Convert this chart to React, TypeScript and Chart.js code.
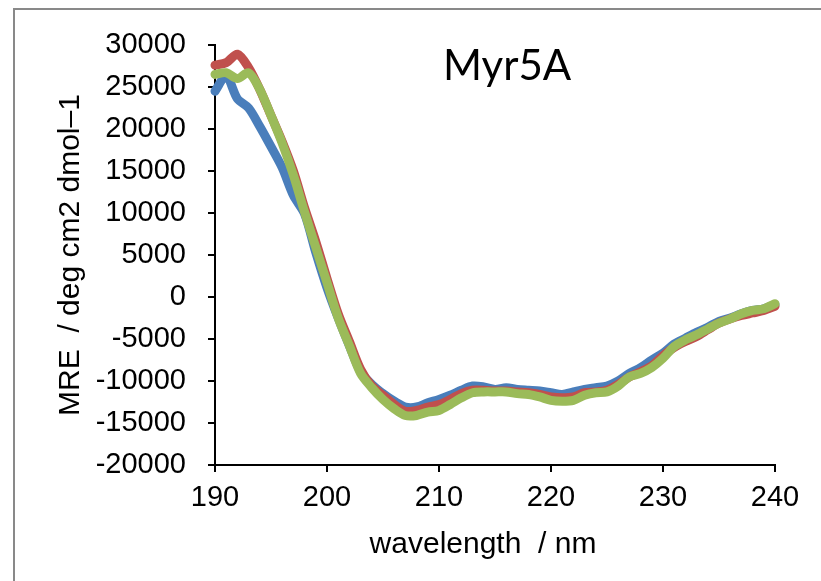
import React, { useEffect, useRef } from "react";
import { Chart, registerables } from "chart.js";

Chart.register(...registerables);

const wavelengths = [
  190, 191, 192, 193, 194, 195, 196, 197, 198, 199,
  200, 201, 202, 203, 204, 205, 206, 207, 208, 209,
  210, 211, 212, 213, 214, 215, 216, 217, 218, 219,
  220, 221, 222, 223, 224, 225, 226, 227, 228, 229,
  230, 231, 232, 233, 234, 235, 236, 237, 238, 239, 240,
];

const blueSeries = [
  24500, 26300, 23600, 22500, 20300, 17900, 15400, 12100, 9900, 5300,
  1100, -2500, -5800, -8900, -10400, -11500, -12400, -13100, -13100, -12600,
  -12200, -11700, -11100, -10600, -10700, -11000, -10800, -11000, -11100, -11200,
  -11400, -11600, -11300, -11000, -10800, -10600, -10000, -9100, -8400, -7500,
  -6700, -5600, -4900, -4200, -3600, -2900, -2500, -2000, -1600, -1400, -900,
];

const redSeries = [
  27600, 27900, 28900, 27300, 24700, 21600, 18500, 15000, 10600, 6600,
  2200, -2000, -5300, -8600, -10600, -11700, -12800, -13600, -13500, -13100,
  -12800, -12200, -11500, -11100, -11100, -11200, -11200, -11300, -11400, -11600,
  -11900, -12000, -11900, -11400, -11300, -11100, -10400, -9500, -8900, -8200,
  -7000, -6000, -5300, -4700, -3900, -3100, -2600, -2200, -1900, -1600, -1100,
];

const greenSeries = [
  26500, 26700, 26000, 26700, 24700, 21600, 18300, 14500, 10100, 5900,
  1700, -2500, -5800, -9100, -10800, -12200, -13300, -14100, -14100, -13700,
  -13500, -12800, -12000, -11400, -11300, -11300, -11300, -11500, -11600, -11900,
  -12300, -12400, -12300, -11700, -11400, -11300, -10600, -9500, -9100, -8400,
  -7300, -5900, -5100, -4500, -3800, -3100, -2600, -2000, -1600, -1400, -800,
];

const yTicks = [-20000, -15000, -10000, -5000, 0, 5000, 10000, 15000, 20000, 25000, 30000];
const xTicks = [190, 200, 210, 220, 230, 240];

const chartTitle = "Myr5A";
const xTitle = "wavelength  / nm";
const yTitle = "MRE  / deg cm2 dmol–1";

const FONT = "'Liberation Sans', Arial, sans-serif";

export default function App() {
  const ref = useRef<HTMLCanvasElement | null>(null);

  useEffect(() => {
    if (!ref.current) return;
    const toPts = (vals: number[]) => wavelengths.map((x, i) => ({ x, y: vals[i] }));

    const decor = {
      id: "decor",
      beforeDraw(chart: any) {
        const ctx = chart.ctx;
        ctx.save();
        ctx.fillStyle = "#ffffff";
        ctx.fillRect(0, 0, chart.width, chart.height);
        ctx.fillStyle = "#898989";
        ctx.fillRect(13, 8, 2, chart.height - 8);
        ctx.fillRect(13, 8, chart.width - 13, 2);
        ctx.restore();
      },
      afterDraw(chart: any) {
        const ctx = chart.ctx;
        ctx.save();
        ctx.fillStyle = "#000";
        ctx.font = "42px Lato, 'Open Sans', sans-serif";
        ctx.textAlign = "left";
        ctx.textBaseline = "alphabetic";
        ctx.fillText(chartTitle, 443, 80);
        ctx.font = "30px " + FONT;
        ctx.textAlign = "center";
        ctx.textBaseline = "middle";
        ctx.fillText(xTitle, 483, 545);
        ctx.restore();
      },
    };

    const ds = (label: string, vals: number[], color: string, order: number) => ({
      label,
      data: toPts(vals),
      borderColor: color,
      backgroundColor: color,
      borderWidth: 9,
      pointRadius: 0,
      tension: 0.3,
      fill: false,
      order,
      clip: false as any,
      borderCapStyle: "round" as const,
      borderJoinStyle: "round" as const,
    });

    const chart = new Chart(ref.current, {
      type: "line",
      data: {
        datasets: [
          ds("blue", blueSeries, "#4a7ebb", 3),
          ds("red", redSeries, "#c0504d", 2),
          ds("green", greenSeries, "#9bbb59", 1),
        ],
      },
      options: {
        animation: false,
        responsive: false,
        devicePixelRatio: 1,
        layout: { padding: { left: 0, top: 45, right: 46, bottom: 0 } },
        plugins: { legend: { display: false }, tooltip: { enabled: false }, title: { display: false } },
        scales: {
          x: {
            type: "linear",
            min: 190,
            max: 240,
            afterBuildTicks: (s: any) => { s.ticks = xTicks.map((v) => ({ value: v })); },
            afterFit: (s: any) => { s.height = 116; },
            ticks: {
              color: "#000",
              font: { family: FONT, size: 29 },
              padding: 9,
              maxRotation: 0,
              callback: (v: any) => String(v),
            },
            grid: { display: true, drawOnChartArea: false, drawTicks: true, tickLength: 7, color: "#000", lineWidth: 2 },
            border: { display: true, color: "#000", width: 2 },
            title: { display: false },
          },
          y: {
            type: "linear",
            min: -20000,
            max: 30000,
            afterBuildTicks: (s: any) => { s.ticks = yTicks.map((v) => ({ value: v })); },
            afterFit: (s: any) => { s.width = 215; },
            ticks: {
              color: "#000",
              font: { family: FONT, size: 29 },
              padding: 22,
              callback: (v: any) => String(v),
            },
            grid: { display: true, drawOnChartArea: false, drawTicks: true, tickLength: 7, color: "#000", lineWidth: 2 },
            border: { display: true, color: "#000", width: 2 },
            title: {
              display: true,
              text: yTitle,
              color: "#000",
              font: { family: FONT, size: 30 },
              padding: { top: 53, bottom: 0 },
            },
          },
        },
      },
      plugins: [decor],
    });
    return () => chart.destroy();
  }, []);

  return (
    <div style={{ position: "fixed", left: 0, top: 0, width: 821, height: 581 }}>
      <canvas ref={ref} width={821} height={581} style={{ width: 821, height: 581, display: "block" }} />
    </div>
  );
}
